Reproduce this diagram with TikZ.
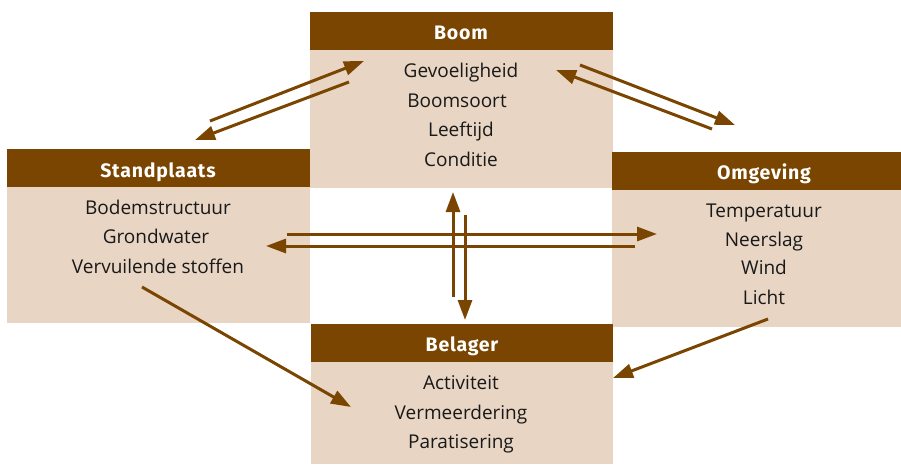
\documentclass[tikz,border=0pt]{standalone}
\usepackage{fontspec}
\setmainfont{Open Sans}
\newfontfamily\hdrfont[LetterSpace=4]{Fira Sans}
\usetikzlibrary{arrows.meta}
\definecolor{brn}{HTML}{7A4500}
\definecolor{bg}{HTML}{E8D5C3}
\tikzset{
  body/.style={fill=bg,draw=none,anchor=north west,inner sep=0pt},
  hdr/.style={fill=brn,draw=none,anchor=north west,inner sep=0pt},
  htxt/.style={text=white,font=\hdrfont\bfseries\fontsize{19.5}{21}\selectfont,anchor=base,inner sep=0pt},
  itm/.style={text=black!90,font=\fontsize{19}{21}\selectfont,anchor=base,inner sep=0pt},
  arr/.style={draw=brn,line width=3pt,-{Triangle[length=20pt,width=14pt]}},
}
\begin{document}
\begin{tikzpicture}[x=1pt,y=-1pt]
\useasboundingbox (0,0) rectangle (901,464);
% boxes
\node[body,minimum width=303pt,minimum height=138pt] (boomb) at (310,50) {};
\node[hdr,minimum width=303pt,minimum height=38pt] (boomh) at (310,12) {};
\node[body,minimum width=303pt,minimum height=136pt] (stb) at (7,187) {};
\node[hdr,minimum width=303pt,minimum height=38pt] (sth) at (7,149) {};
\node[body,minimum width=289pt,minimum height=137pt] (omb) at (612,190) {};
\node[hdr,minimum width=289pt,minimum height=38pt] (omh) at (612,152) {};
\node[body,minimum width=302pt,minimum height=102pt] (beb) at (311,362) {};
\node[hdr,minimum width=302pt,minimum height=38pt] (beh) at (311,324) {};
% headers
\node[htxt] (t1) at (461,39) {Boom};
\node[htxt] (t2) at (158,177) {Standplaats};
\node[htxt] (t3) at (764,179) {Omgeving};
\node[htxt] (t4) at (462,351) {Belager};
% items
\node[itm] (b1) at (461,77) {Gevoeligheid};
\node[itm] (b2) at (457,107) {Boomsoort};
\node[itm] (b3) at (461,136) {Leeftijd};
\node[itm] (b4) at (461,166) {Conditie};
\node[itm] (s1) at (158,214) {Bodemstructuur};
\node[itm] (s2) at (156,243) {Grondwater};
\node[itm] (s3) at (158,273) {Vervuilende stoffen};
\node[itm] (o1) at (764,217) {Temperatuur};
\node[itm] (o2) at (764,246) {Neerslag};
\node[itm] (o3) at (764,274) {Wind};
\node[itm] (o4) at (764,304) {Licht};
\node[itm] (e1) at (461,389) {Activiteit};
\node[itm] (e2) at (461,419) {Vermeerdering};
\node[itm] (e3) at (461,448) {Paratisering};
% arrow end points
\coordinate (a1s) at (210,121); \coordinate (a1e) at (364,61);
\coordinate (a2s) at (349,82);  \coordinate (a2e) at (195,140);
\coordinate (a3s) at (580,65);  \coordinate (a3e) at (735,125);
\coordinate (a4s) at (712,129); \coordinate (a4e) at (556,70);
\coordinate (a5s) at (287,234); \coordinate (a5e) at (657,234);
\coordinate (a6s) at (635,246); \coordinate (a6e) at (266,246);
\coordinate (a7s) at (453,297); \coordinate (a7e) at (453,192);
\coordinate (a8s) at (465,215); \coordinate (a8e) at (465,320);
\coordinate (a9s) at (142,287); \coordinate (a9e) at (351,407);
\coordinate (a10s) at (768,319); \coordinate (a10e) at (613,378);
\draw[arr] (a1s) -- (a1e);
\draw[arr] (a2s) -- (a2e);
\draw[arr] (a3s) -- (a3e);
\draw[arr] (a4s) -- (a4e);
\draw[arr] (a5s) -- (a5e);
\draw[arr] (a6s) -- (a6e);
\draw[arr] (a7s) -- (a7e);
\draw[arr] (a8s) -- (a8e);
\draw[arr] (a9s) -- (a9e);
\draw[arr] (a10s) -- (a10e);
\end{tikzpicture}
\end{document}
